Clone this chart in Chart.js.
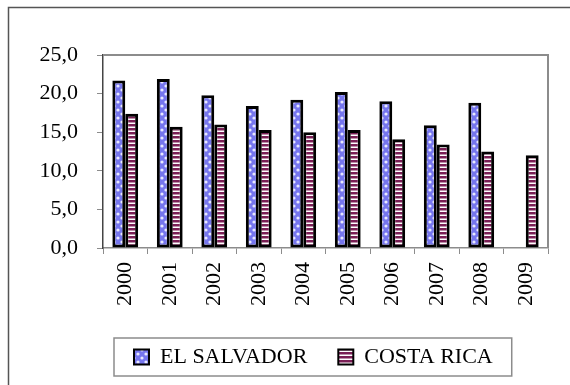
<!DOCTYPE html>
<html>
<head>
<meta charset="utf-8">
<script src="https://cdn.jsdelivr.net/npm/chart.js@4"></script>
<style>
  html, body { margin: 0; padding: 0; background: #fff; }
  #wrap { width: 570px; height: 385px; position: relative; }
</style>
</head>
<body>
<div id="wrap"><canvas id="myChart" width="570" height="385"></canvas></div>
<script>
'use strict'
let years = ['2000', '2001', '2002', '2003', '2004', '2005', '2006', '2007', '2008', '2009'];
let elSalvador = [21.7, 21.9, 19.8, 18.4, 19.2, 20.2, 19.0, 15.9, 18.8, null];
let costaRica = [17.4, 15.7, 16.0, 15.3, 15.0, 15.3, 14.1, 13.4, 12.5, 12.0];
let seriesNames = ['EL SALVADOR', 'COSTA RICA'];

// pattern fills like the old office chart
function dotPattern() {
    let c = document.createElement('canvas');
    c.width = 8; c.height = 8;
    let g = c.getContext('2d');
    g.fillStyle = '#7676ee';
    g.fillRect(0, 0, 8, 8);
    g.fillStyle = '#e8e8ff';
    g.beginPath(); g.arc(2, 2, 1.6, 0, Math.PI * 2); g.fill();
    g.beginPath(); g.arc(6, 6, 1.6, 0, Math.PI * 2); g.fill();
    return g.createPattern(c, 'repeat');
}
function stripePattern() {
    let c = document.createElement('canvas');
    c.width = 4; c.height = 4;
    let g = c.getContext('2d');
    g.fillStyle = '#ffffff';
    g.fillRect(0, 0, 4, 4);
    g.fillStyle = '#7a1e55';
    g.fillRect(0, 0, 4, 2.5);
    return g.createPattern(c, 'repeat');
}

const frames = {
    id: 'frames',
    afterDraw(chart) {
        let ctx = chart.ctx;
        let a = chart.chartArea;
        ctx.save();
        // outer frame (only left and top show)
        ctx.strokeStyle = '#555';
        ctx.lineWidth = 1.5;
        ctx.beginPath();
        ctx.moveTo(8.5, 385);
        ctx.lineTo(8.5, 7.5);
        ctx.lineTo(570, 7.5);
        ctx.stroke();
        // plot area top and right
        ctx.strokeStyle = '#8c8c8c';
        ctx.lineWidth = 2;
        ctx.beginPath();
        ctx.moveTo(a.left, a.top);
        ctx.lineTo(a.right, a.top);
        ctx.lineTo(a.right, a.bottom);
        ctx.stroke();
        // legend box
        let boxes = chart.legend.legendHitBoxes;
        if (boxes && boxes.length) {
            let first = boxes[0];
            let last = boxes[boxes.length - 1];
            let x0 = first.left - 20;
            let x1 = last.left + last.width + 19;
            let y0 = first.top - 8;
            let y1 = first.top + first.height + 8;
            ctx.strokeStyle = '#8c8c8c';
            ctx.lineWidth = 1.5;
            ctx.strokeRect(x0, y0, x1 - x0, y1 - y0);
        }
        ctx.restore();
    }
};

let ctx = document.getElementById('myChart');
let myChart = new Chart(ctx, {
    type: 'bar',
    data: {
        labels: years,
        datasets: [{
            label: seriesNames[0],
            data: elSalvador,
            backgroundColor: dotPattern(),
            borderColor: '#000',
            borderWidth: 3,
            borderSkipped: false
        },
        {
            label: seriesNames[1],
            data: costaRica,
            backgroundColor: stripePattern(),
            borderColor: '#000',
            borderWidth: 3,
            borderSkipped: false
        }]
    },
    options: {
        responsive: false,
        animation: false,
        events: [],
        layout: { padding: { left: 30, right: 22, top: 55, bottom: 7 } },
        categoryPercentage: 0.58,
        barPercentage: 1.0,
        plugins: {
            tooltip: { enabled: false },
            legend: {
                position: 'bottom',
                fullSize: false,
                align: 'start',
                labels: {
                    font: { family: 'Liberation Serif', size: 22 },
                    color: '#000',
                    boxWidth: 15,
                    boxHeight: 15,
                    padding: 31,
                    generateLabels(chart) {
                        let items = Chart.defaults.plugins.legend.labels.generateLabels(chart);
                        items.forEach(it => { it.lineWidth = 2; });
                        return items;
                    }
                }
            }
        },
        scales: {
            x: {
                afterFit(scale) { scale.height = 67; },
                grid: {
                    display: true,
                    drawOnChartArea: false,
                    offset: true,
                    tickLength: 6,
                    color: '#8c8c8c'
                },
                border: { color: '#8c8c8c', width: 1.5 },
                ticks: {
                    minRotation: 90,
                    maxRotation: 90,
                    padding: 8,
                    color: '#000',
                    font: { family: 'Liberation Serif', size: 22 }
                }
            },
            y: {
                min: 0,
                max: 25,
                afterFit(scale) { scale.width = 73; },
                grid: {
                    display: true,
                    drawOnChartArea: false,
                    tickLength: 6,
                    color: '#8c8c8c'
                },
                border: { color: '#444', width: 1.5 },
                ticks: {
                    stepSize: 5,
                    padding: 19,
                    color: '#000',
                    font: { family: 'Liberation Serif', size: 22 },
                    callback: (v) => v.toFixed(1).replace('.', ',')
                }
            }
        }
    },
    plugins: [frames]
});
</script>
</body>
</html>
